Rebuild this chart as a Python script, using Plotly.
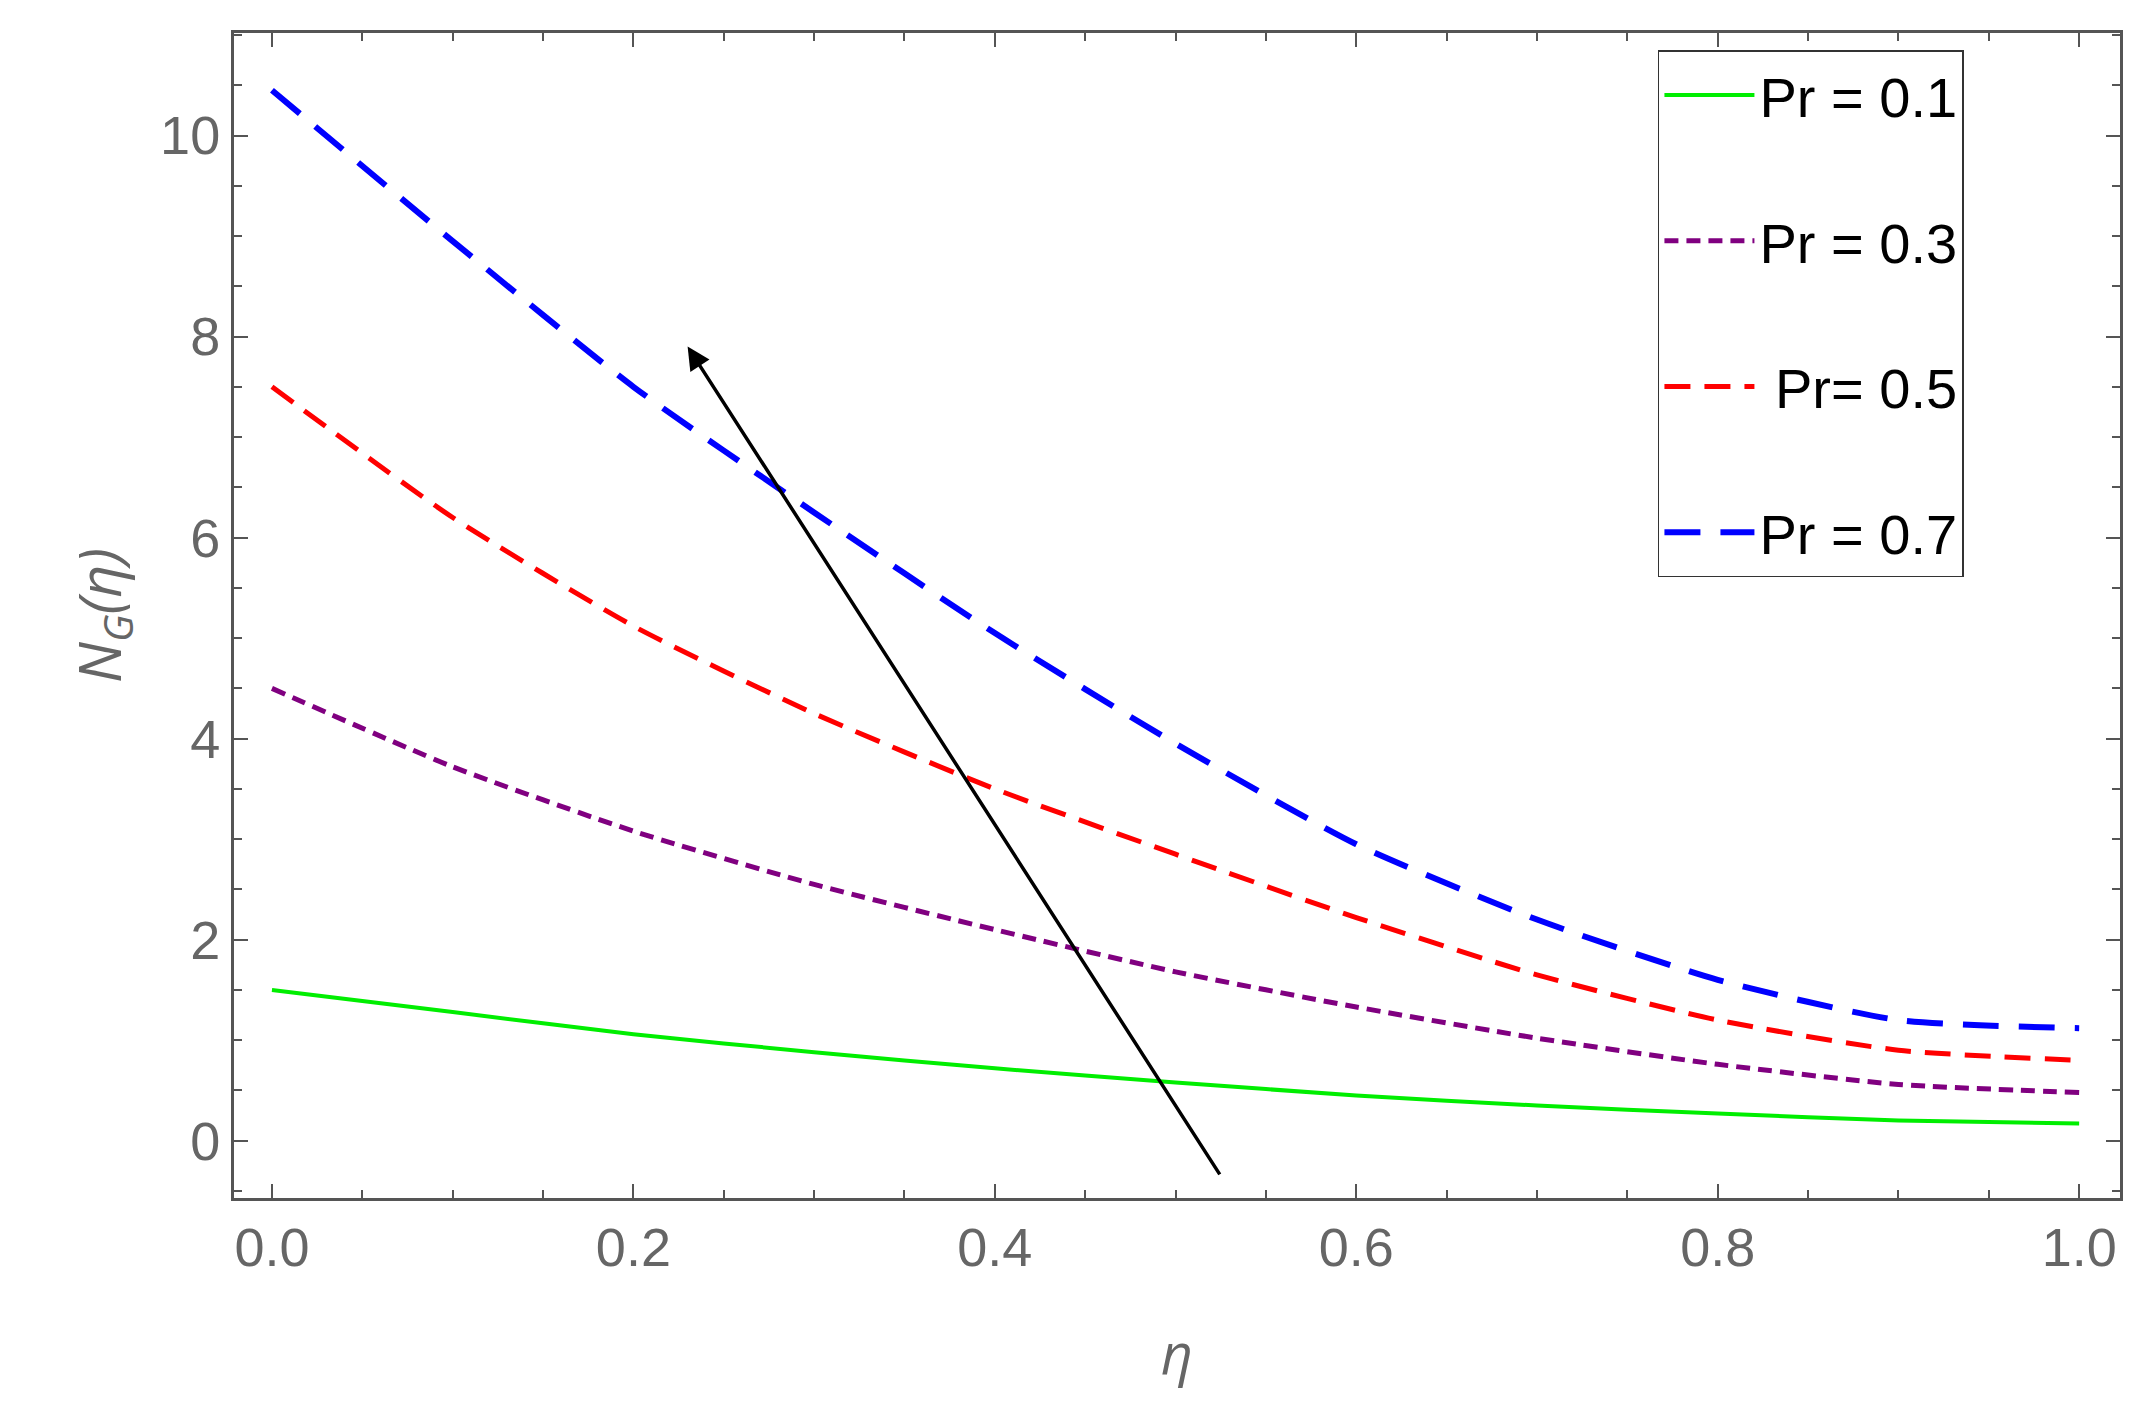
import plotly.graph_objects as go

eta = [0.0, 0.1, 0.2, 0.3, 0.4, 0.5, 0.6, 0.7, 0.8, 0.9, 1.0]
ng_pr01 = [1.5, 1.28, 1.06, 0.88, 0.72, 0.58, 0.45, 0.35, 0.27, 0.2, 0.17]
ng_pr03 = [4.5, 3.72, 3.08, 2.55, 2.1, 1.68, 1.33, 1.02, 0.76, 0.56, 0.48]
ng_pr05 = [7.5, 6.2, 5.12, 4.25, 3.5, 2.85, 2.22, 1.65, 1.2, 0.9, 0.8]
ng_pr07 = [10.45, 8.95, 7.5, 6.25, 5.05, 3.95, 2.95, 2.2, 1.6, 1.2, 1.12]
labels = ["Pr = 0.1", "Pr = 0.3", " Pr= 0.5", "Pr = 0.7"]

colors = ["#00ee00", "purple", "red", "blue"]
widths = [4, 5, 5, 6]
dashes = ["solid", "14px,8px", "26px,14px", "36px,20px"]

fig = go.Figure()
for ys, lab, col, w, d in zip([ng_pr01, ng_pr03, ng_pr05, ng_pr07], labels, colors, widths, dashes):
    fig.add_trace(go.Scatter(x=eta, y=ys, mode="lines", name=lab, legendgroup=lab,
                             line=dict(color=col, width=w, dash=d, shape="spline", smoothing=0.6)))

fig.add_annotation(x=0.23, y=7.9, ax=0.525, ay=-0.35, xref="x", yref="y",
                   axref="x", ayref="y", showarrow=True, arrowhead=2,
                   arrowsize=1.3, arrowwidth=3.5, arrowcolor="black", text="")

axis_common = dict(showline=True, linecolor="#555", linewidth=3, mirror="ticks",
                   ticks="inside", ticklen=14, tickwidth=2, tickcolor="#555",
                   showgrid=False, zeroline=False,
                   tickfont=dict(size=54, color="#666", family="Liberation Sans, Arial"))
fig.update_xaxes(range=[-0.021, 1.0226], tickvals=[0, 0.2, 0.4, 0.6, 0.8, 1.0],
                 ticktext=["0.0", "0.2", "0.4", "0.6", "0.8", "1.0"],
                 minor=dict(dtick=0.05, ticks="inside", ticklen=8, tickcolor="#555", tickwidth=2),
                 title=dict(text="<i>η</i>", font=dict(size=56, color="#666"), standoff=60),
                 **axis_common)
fig.update_yaxes(range=[-0.57, 11.02], tickvals=[0, 2, 4, 6, 8, 10],
                 minor=dict(dtick=0.5, ticks="inside", ticklen=8, tickcolor="#555", tickwidth=2),
                 title=dict(text="<i>N<sub>G</sub>(η)</i>", font=dict(size=58, color="#666"), standoff=20),
                 **axis_common)

fig.update_layout(
    width=2132, height=1423, plot_bgcolor="white", paper_bgcolor="white",
    margin=dict(l=226, r=20, t=25, b=233),
    legend=dict(x=0.755, y=0.985, xanchor="left", yanchor="top",
                bordercolor="#333", borderwidth=1.5, bgcolor="white",
                font=dict(size=56, color="black", family="Liberation Sans, Arial"),
                tracegroupgap=70, itemwidth=90, entrywidth=420),
)
fig.write_html("out.html")
